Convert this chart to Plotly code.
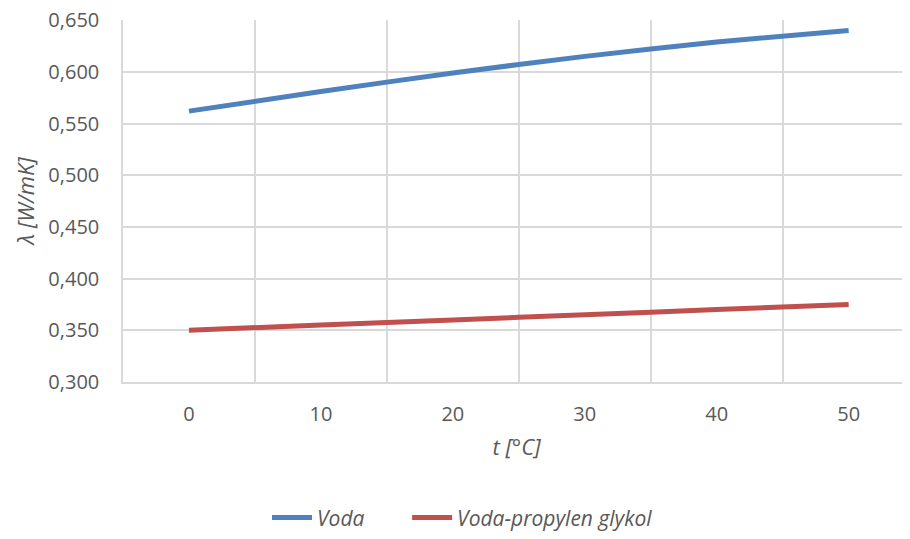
import plotly.graph_objects as go

t_values = [0, 10, 20, 30, 40, 50]
voda = [0.562, 0.581, 0.599, 0.615, 0.629, 0.640]
voda_glykol = [0.350, 0.355, 0.360, 0.365, 0.370, 0.375]
series_names = ["Voda", "Voda-propylen glykol"]
x_tick_vals = [0, 10, 20, 30, 40, 50]
x_grid_vals = [-5, 5, 15, 25, 35, 45, 55]
y_tick_vals = [0.30, 0.35, 0.40, 0.45, 0.50, 0.55, 0.60, 0.65]

FONT = "Open Sans, Liberation Sans, sans-serif"
TXT = "#595959"
GRID = "#D9D9D9"
CLEAR = "rgba(0,0,0,0)"

fig = go.Figure()
fig.add_trace(go.Scatter(x=t_values, y=voda, mode="lines", name=series_names[0], legend="legend",
                         line=dict(color="#4F81BD", width=5, shape="spline", smoothing=0.5)))
fig.add_trace(go.Scatter(x=t_values, y=voda_glykol, mode="lines", name=series_names[1], legend="legend2",
                         line=dict(color="#C0504D", width=5, shape="spline", smoothing=0.5)))

legend_font = dict(size=21, family=FONT, color=TXT, style="italic")
fig.update_layout(
    width=910, height=539,
    margin=dict(l=115, r=8, t=12, b=165, autoexpand=False),
    plot_bgcolor="white", paper_bgcolor="white",
    separators=",.",
    font=dict(family=FONT, color=TXT, size=20),
    showlegend=True,
    legend=dict(orientation="h", x=0.183, xanchor="left", y=-0.375, yanchor="middle",
                itemwidth=40, font=legend_font),
    legend2=dict(orientation="h", x=0.361, xanchor="left", y=-0.375, yanchor="middle",
                 itemwidth=40, font=legend_font),
    xaxis=dict(range=[-5, 54.65], tickvals=x_tick_vals, showgrid=False, zeroline=False,
               showline=True, linecolor=GRID, linewidth=1.5,
               ticks="outside", ticklen=13, tickcolor=CLEAR,
               tickfont=dict(size=20, color=TXT),
               minor=dict(tickvals=x_grid_vals, showgrid=True, gridcolor=GRID, gridwidth=1.5, ticks=""),
               title=dict(text="t [°C]", font=dict(size=22, color=TXT, style="italic"), standoff=14)),
    yaxis=dict(range=[0.2999, 0.6502], tickvals=y_tick_vals, tickformat=".3f",
               ticklabeloverflow="allow",
               showgrid=True, gridcolor=GRID, gridwidth=1.5, zeroline=False,
               showline=True, linecolor=GRID, linewidth=1.5,
               ticks="outside", ticklen=18, tickcolor=CLEAR,
               tickfont=dict(size=20, color=TXT),
               title=dict(text="λ [W/mK]", font=dict(size=22, color=TXT, style="italic"), standoff=8)),
)

fig.write_html("out.html")
